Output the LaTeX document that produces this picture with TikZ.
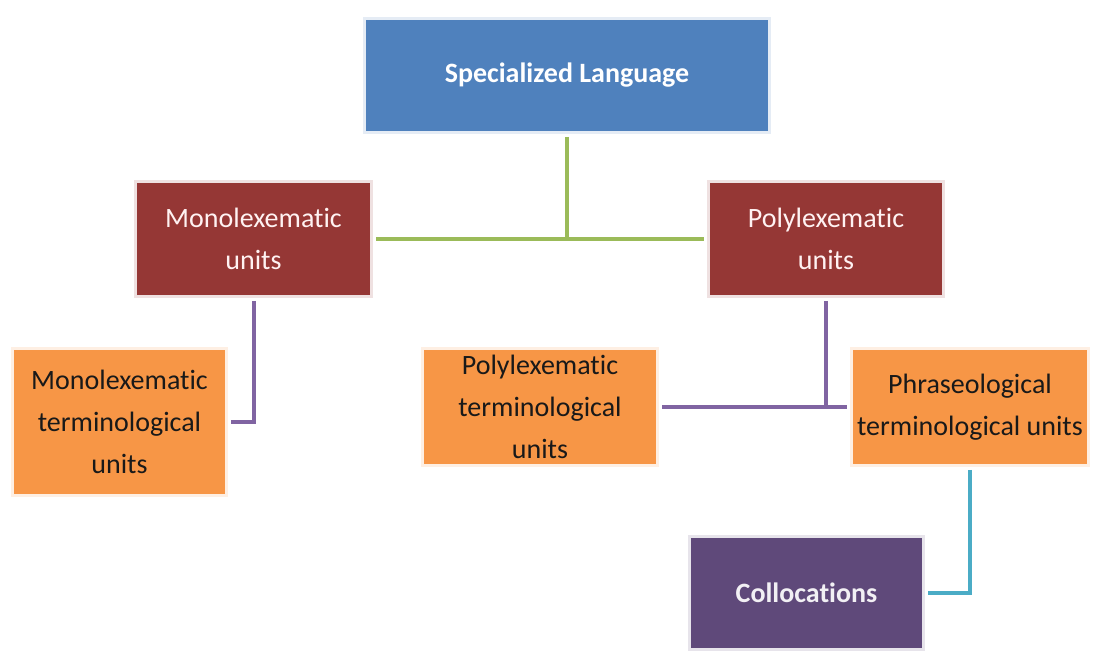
\documentclass[tikz,border=0pt]{standalone}
\usepackage{fontspec}
\setmainfont{Carlito}[Ligatures=NoCommon]
\definecolor{cblue}{HTML}{4F81BD}
\definecolor{cmaroon}{HTML}{953735}
\definecolor{corange}{HTML}{F79646}
\definecolor{cpurple}{HTML}{5F497A}
\definecolor{lgreen}{HTML}{9BBB59}
\definecolor{lpurple}{HTML}{8064A2}
\definecolor{lcyan}{HTML}{4BACC6}
\begin{document}
\begin{tikzpicture}[x=1pt,y=1pt,
  box/.style={rectangle, inner sep=0pt, outer sep=6pt, align=center,
    font=\fontsize{28}{42}\selectfont},
  bluebox/.style={box, fill=cblue, text=white, font=\fontsize{28}{42}\selectfont\bfseries,
    preaction={draw=cblue!15, line width=6pt}},
  redbox/.style={box, fill=cmaroon, text=red!5,
    preaction={draw=cmaroon!15, line width=6pt}},
  orbox/.style={box, fill=corange, text=black!90,
    preaction={draw=corange!15, line width=6pt}},
  purbox/.style={box, fill=cpurple, text=white!92!cpurple, font=\fontsize{28}{42}\selectfont\bfseries,
    preaction={draw=cpurple!15, line width=6pt}},
  conn/.style={line width=4pt}
]
\useasboundingbox (0,0) rectangle (1094,650);
\node[bluebox, minimum width=402pt, minimum height=111pt] (spec) at (567,574.5) {Specialized Language};
\node[redbox, minimum width=233pt, minimum height=112pt] (mono) at (253.5,411) {Monolexematic\\units};
\node[redbox, minimum width=232pt, minimum height=112pt] (poly) at (826,411) {Polylexematic\\units};
\node[orbox, minimum width=211pt, minimum height=144pt] (monot) at (119.5,228) {Monolexematic\\terminological\\units};
\node[orbox, minimum width=232pt, minimum height=114pt] (polyt) at (540,243) {Polylexematic\\terminological\\units};
\node[orbox, minimum width=234pt, minimum height=114pt] (phr) at (970,243) {Phraseological\\terminological units};
\node[purbox, minimum width=231pt, minimum height=110pt] (coll) at (806.5,57) {Collocations};

\draw[conn, lgreen] (spec) -- (spec |- mono);
\draw[conn, lgreen] (mono) -- (poly);
\draw[conn, lpurple] (mono) |- (monot);
\draw[conn, lpurple] (poly) -- (poly |- phr);
\draw[conn, lpurple] (polyt) -- (phr);
\draw[conn, lcyan] (phr) |- (coll);
\end{tikzpicture}
\end{document}
